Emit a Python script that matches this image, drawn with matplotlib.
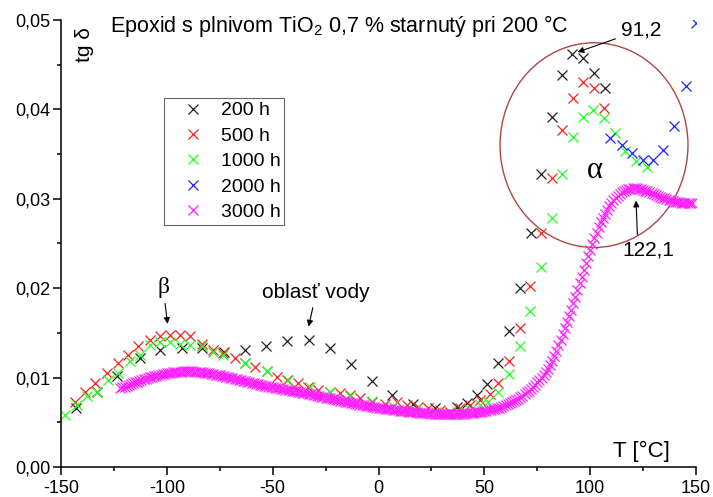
import matplotlib
matplotlib.use("Agg")
import matplotlib.pyplot as plt
from matplotlib.patches import Ellipse
from matplotlib.ticker import MultipleLocator, FuncFormatter

plt.rcParams['font.family'] = ['Liberation Sans', 'DejaVu Sans']
plt.rcParams['mathtext.fontset'] = 'custom'
plt.rcParams['mathtext.rm'] = 'Liberation Sans'
plt.rcParams['mathtext.it'] = 'Liberation Sans'

# --- data (T in degC, tg delta) ---
t_200 = [-142.9, -133.1, -123.7, -112.7, -103.2, -93.0, -83.5, -73.0, -63.1, -53.3,
         -43.1, -32.9, -22.9, -13.2, -3.2, 6.5, 16.4, 26.7, 36.9, 41.6,
         46.4, 51.4, 56.6, 61.8, 66.8, 71.9, 76.6, 81.8, 86.5, 91.2,
         96.7, 101.9, 107.0]
tg_200 = [0.0066, 0.0084, 0.0102, 0.0122, 0.0131, 0.0133, 0.0133, 0.0129, 0.0131, 0.0135,
          0.0141, 0.0142, 0.0133, 0.0115, 0.0096, 0.0081, 0.0071, 0.0066, 0.0067, 0.0072,
          0.0081, 0.0093, 0.0116, 0.0152, 0.0200, 0.0262, 0.0328, 0.0392, 0.0438, 0.0462,
          0.0458, 0.0441, 0.0424]

t_500 = [-143.4, -138.7, -133.9, -128.4, -122.9, -118.2, -113.5, -108.0, -103.2, -98.5,
         -93.8, -89.1, -83.5, -78.0, -73.3, -67.8, -63.1, -58.4, -52.8, -48.1,
         -43.4, -37.9, -33.2, -28.5, -22.9, -18.2, -13.5, -8.8, -3.2, 3.0,
         8.6, 13.3, 18.8, 23.5, 29.0, 33.7, 38.5, 43.2, 47.9, 52.6,
         56.6, 61.8, 66.8, 71.5, 76.7, 81.8, 86.5, 91.7, 96.7, 101.8,
         106.6]
tg_500 = [0.0073, 0.0084, 0.0094, 0.0105, 0.0116, 0.0125, 0.0135, 0.0142, 0.0146, 0.0148,
          0.0148, 0.0146, 0.0138, 0.0131, 0.0127, 0.0122, 0.0116, 0.0112, 0.0107, 0.0101,
          0.0097, 0.0094, 0.0090, 0.0086, 0.0084, 0.0083, 0.0081, 0.0077, 0.0073, 0.0071,
          0.0073, 0.0069, 0.0067, 0.0066, 0.0064, 0.0062, 0.0066, 0.0069, 0.0075, 0.0082,
          0.0094, 0.0118, 0.0155, 0.0202, 0.0262, 0.0323, 0.0377, 0.0413, 0.0431, 0.0424,
          0.0402]

t_1000 = [-148.1, -142.6, -137.9, -133.1, -127.7, -122.9, -117.4, -112.7, -108.0, -103.2,
          -98.5, -93.8, -89.1, -83.5, -78.0, -73.3, -63.1, -52.8, -42.6, -32.4,
          -22.9, -13.5, -3.2, 7.0, 17.0, 27.0, 37.0, 43.0, 47.9, 51.8,
          56.6, 61.5, 66.8, 71.5, 76.6, 81.8, 86.5, 91.7, 96.7, 101.4,
          106.6, 111.7, 116.4, 121.6, 126.7]
tg_1000 = [0.0058, 0.0069, 0.0079, 0.0084, 0.0097, 0.0105, 0.0118, 0.0125, 0.0136, 0.0140,
           0.0140, 0.0138, 0.0136, 0.0135, 0.0129, 0.0125, 0.0116, 0.0107, 0.0097, 0.0090,
           0.0084, 0.0079, 0.0074, 0.0068, 0.0064, 0.0062, 0.0062, 0.0064, 0.0069, 0.0073,
           0.0084, 0.0104, 0.0135, 0.0174, 0.0224, 0.0278, 0.0328, 0.0369, 0.0392, 0.0399,
           0.0390, 0.0374, 0.0353, 0.0342, 0.0336]

t_2000 = [109.3, 114.9, 119.9, 124.8, 129.8, 134.5, 139.6, 145.1, 150.0]
tg_2000 = [0.0368, 0.0360, 0.0351, 0.0343, 0.0343, 0.0355, 0.0381, 0.0426, 0.0497]

t_3000 = list(range(-122, 149))
tg_3000 = [
    0.00880, 0.00890, 0.00900, 0.00910, 0.00920, 0.00930, 0.00940, 0.00948, 0.00956, 0.00964,
    0.00972, 0.00980, 0.00988, 0.00996, 0.01003, 0.01010, 0.01016, 0.01022, 0.01028, 0.01033,
    0.01038, 0.01043, 0.01047, 0.01051, 0.01055, 0.01058, 0.01061, 0.01064, 0.01066, 0.01068,
    0.01069, 0.01070, 0.01070, 0.01070, 0.01069, 0.01068, 0.01066, 0.01064, 0.01061, 0.01058,
    0.01055, 0.01051, 0.01047, 0.01043, 0.01039, 0.01034, 0.01029, 0.01024, 0.01019, 0.01014,
    0.01009, 0.01004, 0.00999, 0.00993, 0.00987, 0.00981, 0.00975, 0.00969, 0.00963, 0.00957,
    0.00951, 0.00945, 0.00940, 0.00935, 0.00930, 0.00925, 0.00920, 0.00915, 0.00910, 0.00905,
    0.00900, 0.00895, 0.00890, 0.00886, 0.00882, 0.00878, 0.00874, 0.00870, 0.00866, 0.00862,
    0.00858, 0.00854, 0.00850, 0.00846, 0.00842, 0.00837, 0.00832, 0.00827, 0.00822, 0.00817,
    0.00812, 0.00807, 0.00802, 0.00797, 0.00792, 0.00787, 0.00782, 0.00777, 0.00772, 0.00767,
    0.00762, 0.00757, 0.00752, 0.00747, 0.00742, 0.00737, 0.00732, 0.00727, 0.00722, 0.00717,
    0.00712, 0.00707, 0.00702, 0.00697, 0.00693, 0.00689, 0.00685, 0.00681, 0.00677, 0.00673,
    0.00669, 0.00665, 0.00661, 0.00658, 0.00655, 0.00652, 0.00649, 0.00646, 0.00643, 0.00640,
    0.00637, 0.00634, 0.00631, 0.00628, 0.00625, 0.00622, 0.00619, 0.00616, 0.00614, 0.00612,
    0.00610, 0.00608, 0.00606, 0.00604, 0.00602, 0.00600, 0.00599, 0.00598, 0.00597, 0.00596,
    0.00595, 0.00594, 0.00593, 0.00592, 0.00592, 0.00592, 0.00592, 0.00592, 0.00592, 0.00593,
    0.00594, 0.00595, 0.00596, 0.00598, 0.00600, 0.00602, 0.00604, 0.00607, 0.00610, 0.00613,
    0.00616, 0.00620, 0.00624, 0.00629, 0.00634, 0.00639, 0.00645, 0.00651, 0.00658, 0.00665,
    0.00673, 0.00681, 0.00690, 0.00700, 0.00711, 0.00723, 0.00736, 0.00750, 0.00765, 0.00781,
    0.00798, 0.00816, 0.00835, 0.00855, 0.00876, 0.00898, 0.00921, 0.00945, 0.00970, 0.00998,
    0.01028, 0.01060, 0.01095, 0.01140, 0.01190, 0.01245, 0.01300, 0.01360, 0.01420, 0.01485,
    0.01550, 0.01620, 0.01690, 0.01760, 0.01830, 0.01905, 0.01980, 0.02055, 0.02130, 0.02205,
    0.02280, 0.02355, 0.02425, 0.02495, 0.02560, 0.02620, 0.02680, 0.02735, 0.02785, 0.02832,
    0.02875, 0.02915, 0.02950, 0.02982, 0.03010, 0.03035, 0.03056, 0.03073, 0.03087, 0.03098,
    0.03106, 0.03112, 0.03115, 0.03116, 0.03115, 0.03112, 0.03107, 0.03100, 0.03092, 0.03083,
    0.03073, 0.03063, 0.03053, 0.03043, 0.03033, 0.03023, 0.03013, 0.03004, 0.02996, 0.02988,
    0.02981, 0.02975, 0.02969, 0.02964, 0.02960, 0.02956, 0.02953, 0.02951, 0.02950, 0.02950,
    0.02951,
]

series = [
    ("200 h", t_200, tg_200, "#222222", 7),
    ("500 h", t_500, tg_500, "#ff2020", 7),
    ("1000 h", t_1000, tg_1000, "#20ff20", 7),
    ("2000 h", t_2000, tg_2000, "#2020ff", 7),
    ("3000 h", t_3000, tg_3000, "#ff20ff", 7.5),
]

fig = plt.figure(figsize=(7.13, 4.97), dpi=100)
ax = fig.add_axes([0.0856, 0.0604, 0.8906, 0.8994])

for label, x, y, c, ms in series:
    ax.plot(x, y, linestyle="none", marker="x", markersize=ms, markeredgewidth=0.9,
            color=c, label=label)

ax.set_xlim(-150, 150)
ax.set_ylim(0, 0.05)
ax.spines["top"].set_visible(False)
ax.spines["right"].set_visible(False)
ax.spines["left"].set_linewidth(1.1)
ax.spines["bottom"].set_linewidth(1.1)
ax.xaxis.set_major_locator(MultipleLocator(50))
ax.xaxis.set_minor_locator(MultipleLocator(25))
ax.yaxis.set_major_locator(MultipleLocator(0.01))
ax.yaxis.set_minor_locator(MultipleLocator(0.005))
ax.xaxis.set_major_formatter(FuncFormatter(lambda v, p: f"{v:.0f}"))
ax.yaxis.set_major_formatter(FuncFormatter(lambda v, p: f"{v:.2f}".replace(".", ",")))
ax.tick_params(which="major", direction="out", length=5.5, width=1.1, labelsize=13)
ax.tick_params(which="minor", direction="out", length=3, width=1.1)
ax.tick_params(axis="x", pad=4)
ax.tick_params(axis="y", pad=2)

# circle around the alpha region
ax.add_patch(Ellipse((101.8, 0.0360), 88.8, 0.0229, fill=False,
                     edgecolor="#a84848", linewidth=1.0, clip_on=False))

ax.text(-126.9, 0.0487, "Epoxid s plnivom TiO$_2$ 0,7 % starnutý pri 200 °C",
        fontsize=15.5, ha="left", va="baseline")
ax.text(-138.7, 0.0472, "tg δ", fontsize=15, rotation=90, ha="center", va="center")
ax.text(124, 0.0017, "T [°C]", fontsize=16, ha="center", va="center")
ax.text(102.2, 0.0332, "α", fontsize=22, family="Liberation Serif", ha="center", va="center")

arrow = dict(arrowstyle="-|>", color="black", linewidth=0.8, mutation_scale=9)
ax.annotate("β", xy=(-99.5, 0.0157), xytext=(-101.8, 0.0201), fontsize=17,
            family="Liberation Serif", ha="center", va="center", arrowprops=arrow)
ax.annotate("oblasť vody", xy=(-33.3, 0.0154), xytext=(-29.5, 0.0195), fontsize=15,
            ha="center", va="center", arrowprops=arrow)
ax.annotate("91,2", xy=(92.8, 0.0463), xytext=(124, 0.0489), fontsize=15,
            ha="center", va="center", arrowprops=arrow)
ax.annotate("122,1", xy=(121.6, 0.0301), xytext=(127.3, 0.0243), fontsize=15,
            ha="center", va="center",
            arrowprops=dict(arrowstyle="-|>", color="black", linewidth=0.8,
                            mutation_scale=9, relpos=(0.3, 1.0)))

leg = ax.legend(loc="upper left", bbox_to_anchor=(0.230, 0.803),
                bbox_transform=fig.transFigure, borderaxespad=0, fontsize=14,
                fancybox=False, framealpha=1, edgecolor="#666666",
                borderpad=0.2, handlelength=2.6, handletextpad=0.12, labelspacing=0.4)
leg.get_frame().set_linewidth(0.8)

fig.savefig("out.png", dpi=100)
